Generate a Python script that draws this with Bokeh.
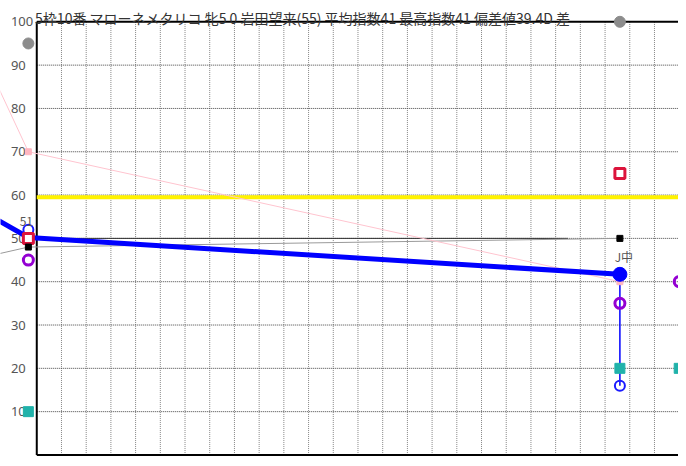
from bokeh.plotting import figure
from bokeh.models import Range1d, Label
from bokeh.core.properties import value
from bokeh.embed import file_html
from bokeh.resources import INLINE

# ---------------- data ----------------
title_text = "5枠10番 マローネメタリコ 牝5 0 岩田望来(55) 平均指数41 最高指数41 偏差値39.4D 差"
y_ticks = [10, 20, 30, 40, 50, 60, 70, 80, 90, 100]
y_tick_labels = ["10", "20", "30", "40", "50", "60", "70", "80", "90", "100"]
x_grid = list(range(1, 26))

# race positions (x in grid-column units; axis at 0)
race_x = [-2.27, -0.34, 23.6]
blue_idx = [56.5, 50.2, 41.7]      # thick blue line
pink_idx = [93.6, 70.0, 40.0]      # light pink line
gray_idx = [45.5, 48.0, 50.0]      # thin gray line

base_x = [0.0, 21.5]
base_y = [50.0, 50.0]
yellow_level = 59.5

gray_pt_x = [-0.34, 23.6]
gray_pt_y = [95, 100]
blue_open_x = [-0.34, 23.6]
blue_open_y = [52, 16]
crimson_x = [-0.34, 23.6]
crimson_y = [50, 65]
black_x = [-0.34, 23.6]
black_y = [48, 50]
purple_x = [-0.34, 23.6, 26.0]
purple_y = [45, 35, 40]
teal_x = [-0.34, 23.6, 26.0]
teal_y = [10, 20, 20]
pink_pt_x = [-0.34, 23.6]
pink_pt_y = [70, 40]
blue_big_x = [23.6]
blue_big_y = [41.7]
range_top = 41.7
range_bottom = 16

point_labels = ["51", "J中"]
point_label_x = [-0.34, 23.6]
point_label_y = [52, 41.7]

# ---------------- figure ----------------
W, H = 678, 458
p = figure(width=W, height=H, output_backend="svg", toolbar_location=None,
           x_range=Range1d(-1.468, 25.972), y_range=Range1d(-0.817, 104.92),
           x_axis_location=None, y_axis_location=None,
           min_border=0, min_border_left=0, min_border_right=0,
           min_border_top=0, min_border_bottom=0)
p.outline_line_color = None
p.background_fill_color = "white"
p.border_fill_color = "white"
for g in p.grid:
    g.visible = False

x_right = 26.5

# grid lines
p.segment(x0=x_grid, y0=[0] * len(x_grid), x1=x_grid, y1=[100] * len(x_grid),
          line_color="#858585", line_width=1, line_dash="1 1")
hgrid = [t for t in y_ticks if t < 100]
p.segment(x0=[0] * len(hgrid), y0=hgrid, x1=[x_right] * len(hgrid), y1=hgrid,
          line_color="#444444", line_width=1, line_dash="1 1")

# tick labels
p.text(x=[-1.048] * len(y_ticks), y=y_ticks, text=y_tick_labels,
       text_font=value("Noto Sans"), text_font_size="13px", text_color="#555555",
       text_align="left", text_baseline="middle")

# frame borders
p.segment(x0=[0, 0, 0], y0=[0, 100, 0], x1=[0, x_right, x_right], y1=[100, 100, 0],
          line_color="black", line_width=2)

# yellow level line
p.segment(x0=[0], y0=[yellow_level], x1=[x_right], y1=[yellow_level],
          line_color="#fff200", line_width=4)

# base black line
p.line(base_x, base_y, line_color="#333333", line_width=1)

# gray / pink / blue lines
p.line(race_x, gray_idx, line_color="#9a9a9a", line_width=1)
p.line(race_x, pink_idx, line_color="#ffc4cf", line_width=1)
p.line(race_x, blue_idx, line_color="#0000ff", line_width=5)

# vertical range line
p.segment(x0=[blue_big_x[0]], y0=[range_top], x1=[blue_big_x[0]], y1=[range_bottom],
          line_color="#0000ff", line_width=1.5)

# markers
p.scatter(gray_pt_x, gray_pt_y, marker="circle", size=11, fill_color="#8c8c8c", line_color="#8c8c8c")
p.scatter(blue_open_x, blue_open_y, marker="circle", size=10, fill_color=None, line_color="#1a1aff", line_width=2)
p.scatter(crimson_x, crimson_y, marker="square", size=10, fill_color="white", line_color="#dc143c", line_width=3)
p.scatter(black_x, black_y, marker="square", size=6, fill_color="black", line_color="black")
p.scatter(purple_x, purple_y, marker="circle", size=10, fill_color=None, line_color="#9400d3", line_width=3)
p.scatter(teal_x, teal_y, marker="square", size=10, fill_color="#20b2aa", line_color="#20b2aa")
p.scatter(pink_pt_x, pink_pt_y, marker="square", size=6, fill_color="#ffb6c1", line_color="#ffb6c1")
p.scatter(blue_big_x, blue_big_y, marker="circle", size=14, fill_color="#0000ff", line_color="#0000ff")

# point labels
p.text(x=point_label_x, y=point_label_y, text=point_labels,
       text_font=value("Noto Sans CJK JP"), text_font_size="12px", text_color="#555555",
       text_align="center", text_baseline="bottom", x_offset=[-2, 4], y_offset=[-4, -9])

# title
p.add_layout(Label(x=-0.068, y=100.95, text=title_text, text_font="Noto Sans CJK JP",
                   text_font_size="14px", text_color="#333333", text_baseline="alphabetic"))

open("out.html", "w").write(file_html(p, INLINE))
